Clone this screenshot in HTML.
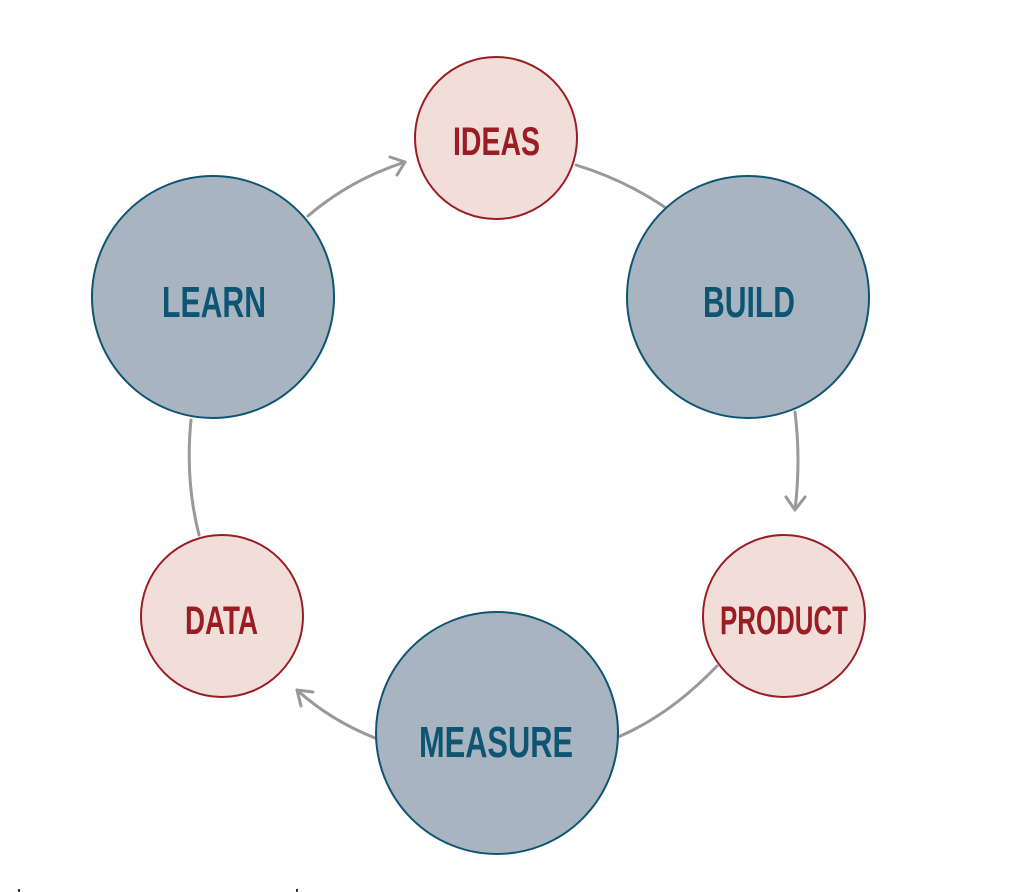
<!DOCTYPE html>
<html><head><meta charset="utf-8"><style>
html,body{margin:0;padding:0;background:#fff;}
svg{display:block;}
text{font-family:"Liberation Sans Narrow","Liberation Sans",sans-serif;font-weight:bold;}
</style></head><body>
<svg width="1032" height="892" viewBox="0 0 1032 892" xmlns="http://www.w3.org/2000/svg">
<g fill="none" stroke="#999" stroke-width="3" stroke-linecap="round" stroke-linejoin="round">
<path d="M308 216 Q350 180 405 162"/>
<path d="M390 157 L405 162 L397 175"/>
<path d="M576 165 Q625 180 666 208"/>
<path d="M795 412 Q801 460 795 510"/>
<path d="M786 497 L795 510 L805 497"/>
<path d="M717 666 Q670 715 618 737"/>
<path d="M375 738 Q330 720 297 690"/>
<path d="M301 706 L297 690 L313 692"/>
<path d="M199 535 Q185 480 191 420"/>
</g>
<g stroke-width="2">
<circle cx="496" cy="138" r="81" fill="#f1ded9" stroke="#9b1d24"/>
<circle cx="784" cy="616" r="81" fill="#f1ded9" stroke="#9b1d24"/>
<circle cx="222" cy="616" r="81" fill="#f1ded9" stroke="#9b1d24"/>
<circle cx="748" cy="297" r="121" fill="#a9b4c1" stroke="#0e5573"/>
<circle cx="497" cy="733" r="121" fill="#a9b4c1" stroke="#0e5573"/>
<circle cx="213" cy="297" r="121" fill="#a9b4c1" stroke="#0e5573"/>
</g>
<g fill="#9b1d24" font-size="40">
<text x="453" y="155" textLength="87" lengthAdjust="spacingAndGlyphs">IDEAS</text>
<text x="720" y="634" textLength="128" lengthAdjust="spacingAndGlyphs">PRODUCT</text>
<text x="185" y="634" textLength="73" lengthAdjust="spacingAndGlyphs">DATA</text>
</g>
<g fill="#0e5573" font-size="44">
<text x="703" y="317" textLength="92" lengthAdjust="spacingAndGlyphs">BUILD</text>
<text x="162" y="317" textLength="104" lengthAdjust="spacingAndGlyphs">LEARN</text>
<text x="419" y="757" textLength="154" lengthAdjust="spacingAndGlyphs">MEASURE</text>
</g>
<rect x="18" y="889" width="2" height="3" fill="#333"/>
<rect x="296" y="889" width="2" height="3" fill="#333"/>
</svg>
</body></html>
